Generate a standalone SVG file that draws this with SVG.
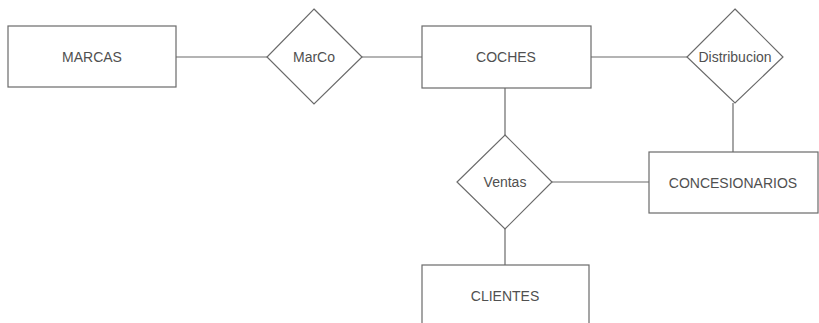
<svg xmlns="http://www.w3.org/2000/svg" width="819" height="323" viewBox="0 0 819 323">
  <style>
    .entity { fill: #ffffff; stroke: #6a6a6a; stroke-width: 1.2; }
    .relation { fill: #ffffff; stroke: #6a6a6a; stroke-width: 1.2; }
    .link { stroke: #6a6a6a; stroke-width: 1.2; fill: none; }
    .label { font-family: "Liberation Sans", Arial, sans-serif; font-size: 14px; fill: #505050; text-anchor: middle; dominant-baseline: central; }
  </style>
  <rect width="819" height="323" fill="#ffffff"/>

  <g id="connectors">
    <line class="link" x1="176" y1="57" x2="267" y2="57"/>
    <line class="link" x1="362" y1="57" x2="422" y2="57"/>
    <line class="link" x1="591" y1="57" x2="687" y2="57"/>
    <line class="link" x1="733" y1="103" x2="733" y2="152"/>
    <line class="link" x1="505" y1="88" x2="505" y2="135"/>
    <line class="link" x1="552" y1="182" x2="649" y2="182"/>
    <line class="link" x1="505" y1="229" x2="505" y2="265"/>
  </g>

  <g id="marcas">
    <rect class="entity" x="8" y="26" width="168" height="61"/>
    <text class="label" x="92" y="57">MARCAS</text>
  </g>

  <g id="marco">
    <polygon class="relation" points="314,9 362,57 314,104 267,57"/>
    <text class="label" x="314" y="57">MarCo</text>
  </g>

  <g id="coches">
    <rect class="entity" x="422" y="26" width="169" height="62"/>
    <text class="label" x="506" y="57">COCHES</text>
  </g>

  <g id="distribucion">
    <polygon class="relation" points="735,9 783,57 735,103 687,57"/>
    <text class="label" x="735" y="57">Distribucion</text>
  </g>

  <g id="ventas">
    <polygon class="relation" points="505,135 552,182 505,229 457,182"/>
    <text class="label" x="505" y="182">Ventas</text>
  </g>

  <g id="concesionarios">
    <rect class="entity" x="649" y="152" width="169" height="61"/>
    <text class="label" x="733" y="183">CONCESIONARIOS</text>
  </g>

  <g id="clientes">
    <rect class="entity" x="422" y="265" width="167" height="62"/>
    <text class="label" x="505" y="296">CLIENTES</text>
  </g>
</svg>
